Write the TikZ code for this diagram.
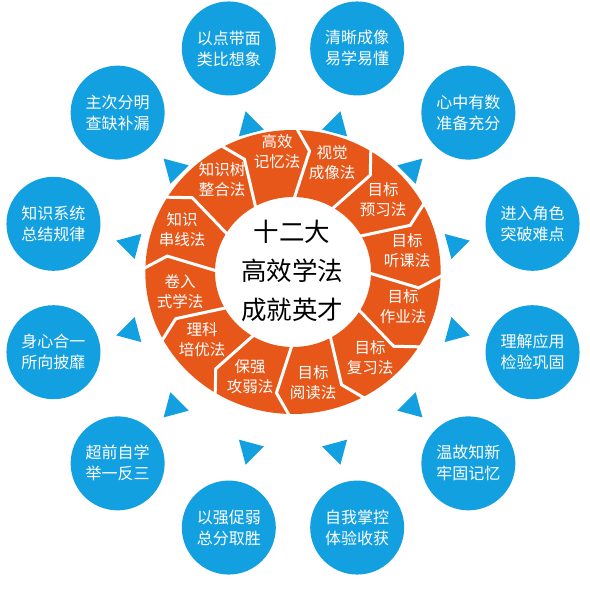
\documentclass[tikz,border=0pt]{standalone}
\usepackage{fontspec}
\setmainfont{Noto Sans CJK SC}
\usetikzlibrary{calc}
\definecolor{ringorange}{RGB}{232,87,26}
\definecolor{dotblue}{RGB}{19,160,225}
\begin{document}
\begin{tikzpicture}[x=1pt,y=1pt,
  segtext/.style={text=white,font=\fontsize{15.5}{20}\selectfont,align=center,inner sep=0pt},
  bubble/.style={circle,fill=dotblue,minimum size=94pt,inner sep=0pt,text=white,font=\fontsize{16}{21}\selectfont,align=center},
  centertext/.style={font=\fontsize{25.5}{39}\selectfont,align=center,text=black,inner sep=0pt},
  sepline/.style={draw=white,line width=3pt,miter limit=10},
  pointer/.style={fill=dotblue}
]
\useasboundingbox (0,0) rectangle (589,-607);
\coordinate (L) at (293,-288);
\coordinate (R) at (293,-272);
% ring
\begin{scope}[shift={(R)},xscale=1.04]
  \fill[ringorange,even odd rule] (0,0) circle (142) (0,0) circle (75);
  \foreach \a in {0,30,...,330}{
    \draw[sepline] (\a:70) -- (\a-7.5:122) -- (\a:150);
  }
\end{scope}
% segment texts
\node[segtext] (s1) at (277,-152) {高效\\记忆法};
\node[segtext] (s2) at (332,-163) {视觉\\成像法};
\node[segtext] (s3) at (383,-200) {目标\\预习法};
\node[segtext] (s4) at (407,-251) {目标\\听课法};
\node[segtext] (s5) at (403,-307) {目标\\作业法};
\node[segtext] (s6) at (370,-358) {目标\\复习法};
\node[segtext] (s7) at (313,-383) {目标\\阅读法};
\node[segtext] (s8) at (250,-377) {保强\\攻弱法};
\node[segtext] (s9) at (202,-340) {理科\\培优法};
\node[segtext] (s10) at (180,-292) {卷入\\式学法};
\node[segtext] (s11) at (182,-230) {知识\\串线法};
\node[segtext] (s12) at (222,-180) {知识树\\整合法};
% center
\node[centertext] (core) at (292,-271) {十二大\\高效学法\\成就英才};
% triangles
\foreach \a [count=\i] in {105,75,45,15,-15,-45,-75,-105,-135,-165,165,135}{
  \coordinate (t\i) at ($(L)+(\a:168)$);
  \fill[pointer,shift={(t\i)},rotate=\a] (15,0) -- (120:15) -- (240:15) -- cycle;
}
% bubbles
\foreach \a/\txt [count=\i] in {
  105/{以点带面\\类比想象},
  75/{清晰成像\\易学易懂},
  45/{心中有数\\准备充分},
  15/{进入角色\\突破难点},
  -15/{理解应用\\检验巩固},
  -45/{温故知新\\牢固记忆},
  -75/{自我掌控\\体验收获},
  -105/{以强促弱\\总分取胜},
  -135/{超前自学\\举一反三},
  -165/{身心合一\\所向披靡},
  165/{知识系统\\总结规律},
  135/{主次分明\\查缺补漏}}{
  \node[bubble] (b\i) at ($(L)+(\a:248)$) {\txt};
}
\end{tikzpicture}
\end{document}
